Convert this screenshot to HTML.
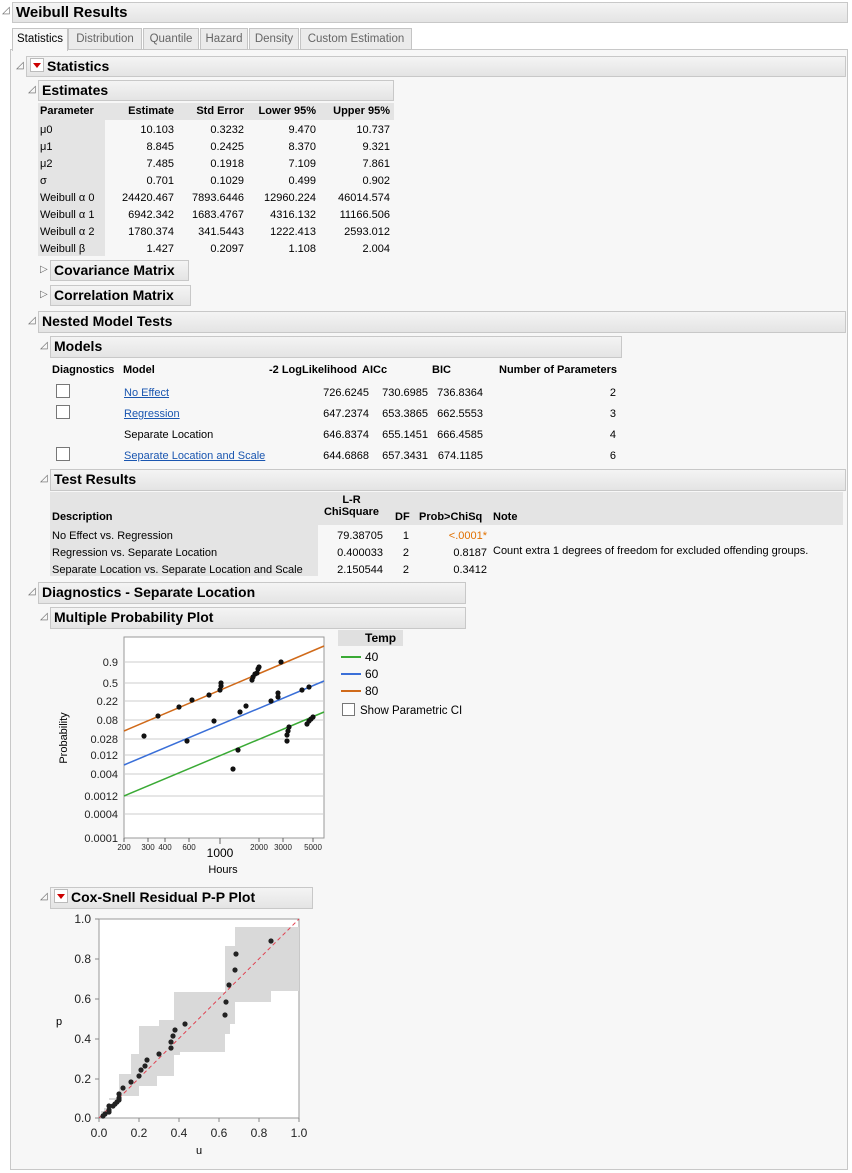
<!DOCTYPE html>
<html><head><meta charset="utf-8"><style>
body{margin:0;width:852px;height:1173px;background:#fff;font-family:"Liberation Sans",sans-serif;font-size:11px;color:#000;position:relative;overflow:hidden}
.a{position:absolute;white-space:nowrap}
.hb{position:absolute;background:linear-gradient(#f4f4f4,#e4e4e4);border:1px solid #c8c8c8;font-weight:bold;font-size:14px;line-height:19px;padding-left:3px;box-sizing:border-box}
.tri{position:absolute;font-size:10px;color:#666}
.r{text-align:right}
.tab{position:absolute;top:28px;height:22px;border:1px solid #c4c4c4;background:#ebebeb;color:#666;line-height:21px;text-align:center;box-sizing:border-box;font-size:11.5px}
.gr{background:#e4e4e4}
.cb{position:absolute;width:12px;height:12px;border:1px solid #777;background:#fff}
.lk{color:#1a56b0;text-decoration:underline}
.menu{display:inline-block;width:12px;height:12px;border:1px solid #bbb;background:#fff;vertical-align:-1px;margin-right:3px;position:relative}
.menu:after{content:"";position:absolute;left:2px;top:4px;border-left:4px solid transparent;border-right:4px solid transparent;border-top:5px solid #c00}
</style></head><body>
<div class="tri" style="left:2px;top:5px">◿</div>
<div class="hb" style="left:12px;top:2px;width:836px;height:21px;font-size:15px">Weibull Results</div>
<div style="position:absolute;left:10px;top:49px;width:838px;height:1121px;border:1px solid #c8c8c8;background:#f7f7f7;box-sizing:border-box"></div>
<div class="tab" style="left:12px;width:56px;background:#f7f7f7;color:#000;border-bottom:none;height:23px">Statistics</div>
<div class="tab" style="left:68px;width:74px">Distribution</div>
<div class="tab" style="left:143px;width:56px">Quantile</div>
<div class="tab" style="left:200px;width:48px">Hazard</div>
<div class="tab" style="left:249px;width:50px">Density</div>
<div class="tab" style="left:300px;width:112px">Custom Estimation</div>

<div class="tri" style="left:16px;top:60px">◿</div>
<div class="hb" style="left:26px;top:56px;width:820px;height:21px"><span class="menu"></span>Statistics</div>
<div class="tri" style="left:28px;top:84px">◿</div>
<div class="hb" style="left:38px;top:80px;width:356px;height:21px">Estimates</div>

<div class="a gr" style="left:38px;top:103px;width:356px;height:17px"></div>
<div class="a gr" style="left:38px;top:120px;width:67px;height:136px"></div>
<div class="a" style="left:40px;top:105px;font-weight:bold">Parameter</div>
<div class="a r" style="left:100px;width:74px;top:105px;font-weight:bold">Estimate</div>
<div class="a r" style="left:170px;width:74px;top:105px;font-weight:bold">Std Error</div>
<div class="a r" style="left:240px;width:76px;top:105px;font-weight:bold">Lower 95%</div>
<div class="a r" style="left:310px;width:80px;top:105px;font-weight:bold">Upper 95%</div>
<div class="a" style="left:40px;top:122px;line-height:17px">μ0<br>μ1<br>μ2<br>σ<br>Weibull α 0<br>Weibull α 1<br>Weibull α 2<br>Weibull β</div>
<div class="a r" style="left:100px;width:74px;top:122px;line-height:17px">10.103<br>8.845<br>7.485<br>0.701<br>24420.467<br>6942.342<br>1780.374<br>1.427</div>
<div class="a r" style="left:170px;width:74px;top:122px;line-height:17px">0.3232<br>0.2425<br>0.1918<br>0.1029<br>7893.6446<br>1683.4767<br>341.5443<br>0.2097</div>
<div class="a r" style="left:240px;width:76px;top:122px;line-height:17px">9.470<br>8.370<br>7.109<br>0.499<br>12960.224<br>4316.132<br>1222.413<br>1.108</div>
<div class="a r" style="left:310px;width:80px;top:122px;line-height:17px">10.737<br>9.321<br>7.861<br>0.902<br>46014.574<br>11166.506<br>2593.012<br>2.004</div>

<div class="tri" style="left:40px;top:264px">▷</div>
<div class="hb" style="left:50px;top:260px;width:139px;height:21px">Covariance Matrix</div>
<div class="tri" style="left:40px;top:289px">▷</div>
<div class="hb" style="left:50px;top:285px;width:141px;height:21px">Correlation Matrix</div>

<div class="tri" style="left:28px;top:315px">◿</div>
<div class="hb" style="left:38px;top:311px;width:808px;height:22px">Nested Model Tests</div>
<div class="tri" style="left:40px;top:340px">◿</div>
<div class="hb" style="left:50px;top:336px;width:572px;height:22px">Models</div>
<div class="a" style="left:52px;top:364px;font-weight:bold">Diagnostics</div>
<div class="a" style="left:123px;top:364px;font-weight:bold">Model</div>
<div class="a r" style="left:246px;width:111px;top:364px;font-weight:bold">-2 LogLikelihood</div>
<div class="a" style="left:362px;top:364px;font-weight:bold">AICc</div>
<div class="a" style="left:432px;top:364px;font-weight:bold">BIC</div>
<div class="a r" style="left:480px;width:137px;top:364px;font-weight:bold">Number of Parameters</div>
<div class="cb" style="left:56px;top:384px"></div>
<div class="cb" style="left:56px;top:405px"></div>
<div class="cb" style="left:56px;top:447px"></div>
<div class="a" style="left:124px;top:383px;line-height:21px"><span class="lk">No Effect</span><br><span class="lk">Regression</span><br>Separate Location<br><span class="lk">Separate Location and Scale</span></div>
<div class="a r" style="left:300px;width:69px;top:383px;line-height:21px">726.6245<br>647.2374<br>646.8374<br>644.6868</div>
<div class="a r" style="left:370px;width:58px;top:383px;line-height:21px">730.6985<br>653.3865<br>655.1451<br>657.3431</div>
<div class="a r" style="left:430px;width:53px;top:383px;line-height:21px">736.8364<br>662.5553<br>666.4585<br>674.1185</div>
<div class="a r" style="left:580px;width:36px;top:383px;line-height:21px">2<br>3<br>4<br>6</div>

<div class="tri" style="left:40px;top:473px">◿</div>
<div class="hb" style="left:50px;top:469px;width:796px;height:22px">Test Results</div>
<div class="a gr" style="left:50px;top:492px;width:793px;height:33px"></div>
<div class="a gr" style="left:50px;top:525px;width:268px;height:51px"></div>
<div class="a" style="left:52px;top:511px;font-weight:bold">Description</div>
<div class="a r" style="left:320px;width:63px;top:494px;font-weight:bold;text-align:center">L-R<br>ChiSquare</div>
<div class="a" style="left:395px;top:511px;font-weight:bold">DF</div>
<div class="a" style="left:419px;top:511px;font-weight:bold">Prob&gt;ChiSq</div>
<div class="a" style="left:493px;top:511px;font-weight:bold">Note</div>
<div class="a" style="left:52px;top:528px;line-height:17px">No Effect vs. Regression<br>Regression vs. Separate Location<br>Separate Location vs. Separate Location and Scale</div>
<div class="a r" style="left:320px;width:63px;top:528px;line-height:17px">79.38705<br>0.400033<br>2.150544</div>
<div class="a r" style="left:390px;width:19px;top:528px;line-height:17px">1<br>2<br>2</div>
<div class="a r" style="left:420px;width:67px;top:528px;line-height:17px"><span style="color:#e07000">&lt;.0001*</span><br>0.8187<br>0.3412</div>
<div class="a" style="left:493px;top:545px">Count extra 1 degrees of freedom for excluded offending groups.</div>

<div class="tri" style="left:28px;top:586px">◿</div>
<div class="hb" style="left:38px;top:582px;width:428px;height:22px">Diagnostics - Separate Location</div>
<div class="tri" style="left:40px;top:611px">◿</div>
<div class="hb" style="left:50px;top:607px;width:416px;height:22px">Multiple Probability Plot</div>

<svg class="a" style="left:0;top:0" width="852" height="1173" font-family="Liberation Sans, sans-serif">
<rect x="124" y="637" width="200" height="201" fill="#fff" stroke="#999"/>
<g stroke="#ccc">
<line x1="124" x2="324" y1="662" y2="662"/><line x1="124" x2="324" y1="683" y2="683"/><line x1="124" x2="324" y1="701" y2="701"/><line x1="124" x2="324" y1="720" y2="720"/><line x1="124" x2="324" y1="739" y2="739"/><line x1="124" x2="324" y1="755" y2="755"/><line x1="124" x2="324" y1="774" y2="774"/><line x1="124" x2="324" y1="796" y2="796"/><line x1="124" x2="324" y1="814" y2="814"/>
</g>
<g font-size="11" text-anchor="end" fill="#222">
<text x="118" y="666">0.9</text><text x="118" y="687">0.5</text><text x="118" y="705">0.22</text><text x="118" y="724">0.08</text><text x="118" y="743">0.028</text><text x="118" y="759">0.012</text><text x="118" y="778">0.004</text><text x="118" y="800">0.0012</text><text x="118" y="818">0.0004</text><text x="118" y="842">0.0001</text>
</g>
<g stroke="#666"><line x1="124" x2="124" y1="838" y2="842"/><line x1="148" x2="148" y1="838" y2="842"/><line x1="165" x2="165" y1="838" y2="842"/><line x1="189" x2="189" y1="838" y2="842"/><line x1="220" x2="220" y1="838" y2="844"/><line x1="259" x2="259" y1="838" y2="842"/><line x1="283" x2="283" y1="838" y2="842"/><line x1="313" x2="313" y1="838" y2="842"/></g>
<g font-size="8" text-anchor="middle" fill="#222"><text x="124" y="850">200</text><text x="148" y="850">300</text><text x="165" y="850">400</text><text x="189" y="850">600</text><text x="259" y="850">2000</text><text x="283" y="850">3000</text><text x="313" y="850">5000</text></g>
<text x="220" y="857" font-size="12" text-anchor="middle">1000</text>
<text x="223" y="873" font-size="11" text-anchor="middle">Hours</text>
<text x="0" y="0" font-size="11" text-anchor="middle" transform="translate(67,738) rotate(-90)">Probability</text>
<line x1="124" y1="731" x2="324" y2="646" stroke="#d06a1a" stroke-width="1.5"/>
<line x1="124" y1="765" x2="324" y2="681" stroke="#3a6fd8" stroke-width="1.5"/>
<line x1="124" y1="796" x2="324" y2="712" stroke="#3aaa35" stroke-width="1.5"/>
<g fill="#111">
<circle cx="144" cy="736" r="2.6"/><circle cx="158" cy="716" r="2.6"/><circle cx="179" cy="707" r="2.6"/><circle cx="192" cy="700" r="2.6"/><circle cx="209" cy="695" r="2.6"/><circle cx="220" cy="690" r="2.6"/><circle cx="221" cy="686" r="2.6"/><circle cx="221" cy="683" r="2.6"/><circle cx="252" cy="680" r="2.6"/><circle cx="253" cy="677" r="2.6"/><circle cx="255" cy="674" r="2.6"/><circle cx="257" cy="673" r="2.6"/><circle cx="258" cy="669" r="2.6"/><circle cx="259" cy="667" r="2.6"/><circle cx="281" cy="662" r="2.6"/>
<circle cx="187" cy="741" r="2.6"/><circle cx="214" cy="721" r="2.6"/><circle cx="233" cy="769" r="2.6"/><circle cx="238" cy="750" r="2.6"/><circle cx="240" cy="712" r="2.6"/><circle cx="246" cy="706" r="2.6"/><circle cx="271" cy="701" r="2.6"/><circle cx="278" cy="697" r="2.6"/><circle cx="278" cy="693" r="2.6"/><circle cx="302" cy="690" r="2.6"/><circle cx="309" cy="687" r="2.6"/>
<circle cx="287" cy="741" r="2.6"/><circle cx="287" cy="735" r="2.6"/><circle cx="288" cy="731" r="2.6"/><circle cx="289" cy="727" r="2.6"/><circle cx="307" cy="724" r="2.6"/><circle cx="309" cy="721" r="2.6"/><circle cx="311" cy="719" r="2.6"/><circle cx="313" cy="717" r="2.6"/>
</g>
<rect x="338" y="630" width="65" height="16" fill="#e0e0e0"/>
<text x="365" y="642" font-size="12" font-weight="bold">Temp</text>
<line x1="341" x2="361" y1="657" y2="657" stroke="#3aaa35" stroke-width="2"/><text x="365" y="661" font-size="12">40</text>
<line x1="341" x2="361" y1="674" y2="674" stroke="#3a6fd8" stroke-width="2"/><text x="365" y="678" font-size="12">60</text>
<line x1="341" x2="361" y1="691" y2="691" stroke="#d06a1a" stroke-width="2"/><text x="365" y="695" font-size="12">80</text>
<rect x="342.5" y="703.5" width="12" height="12" fill="#fff" stroke="#777"/>
<text x="360" y="714" font-size="11.5">Show Parametric CI</text>

<rect x="99" y="919" width="200" height="199" fill="#fff" stroke="#999"/>
<polygon fill="#d9d9d9" points="101,1118 101,1111 104,1111 104,1108 109,1108 109,1098 119,1098 119,1074 131,1074 131,1054 139,1054 139,1026 159,1026 159,1020 174,1020 174,992 225,992 225,946 235,946 235,927 299,927 299,991 271,991 271,1002 235,1002 235,1024 230,1024 230,1034 225,1034 225,1052 180,1052 180,1055 174,1055 174,1076 157,1076 157,1086 139,1086 139,1096 120,1096 120,1100 109,1100 109,1112 103,1112 103,1118"/>
<line x1="99" y1="1118" x2="299" y2="919" stroke="#e04050" stroke-dasharray="4,3"/>
<g fill="#222">
<circle cx="103" cy="1116" r="2.6"/><circle cx="105" cy="1114" r="2.6"/><circle cx="109" cy="1112" r="2.6"/><circle cx="109" cy="1110" r="2.6"/><circle cx="109" cy="1106" r="2.6"/><circle cx="113" cy="1106" r="2.6"/><circle cx="115" cy="1104" r="2.6"/><circle cx="117" cy="1102" r="2.6"/><circle cx="119" cy="1100" r="2.6"/><circle cx="119" cy="1098" r="2.6"/><circle cx="119" cy="1094" r="2.6"/><circle cx="123" cy="1088" r="2.6"/><circle cx="131" cy="1082" r="2.6"/><circle cx="139" cy="1076" r="2.6"/><circle cx="141" cy="1070" r="2.6"/><circle cx="145" cy="1066" r="2.6"/><circle cx="147" cy="1060" r="2.6"/><circle cx="159" cy="1054" r="2.6"/><circle cx="171" cy="1048" r="2.6"/><circle cx="171" cy="1042" r="2.6"/><circle cx="173" cy="1036" r="2.6"/><circle cx="175" cy="1030" r="2.6"/><circle cx="185" cy="1024" r="2.6"/><circle cx="225" cy="1015" r="2.6"/><circle cx="226" cy="1002" r="2.6"/><circle cx="229" cy="985" r="2.6"/><circle cx="235" cy="970" r="2.6"/><circle cx="236" cy="954" r="2.6"/><circle cx="271" cy="941" r="2.6"/>
</g>
<g font-size="12" fill="#222" text-anchor="end"><text x="91" y="923">1.0</text><text x="91" y="963">0.8</text><text x="91" y="1003">0.6</text><text x="91" y="1043">0.4</text><text x="91" y="1083">0.2</text><text x="91" y="1122">0.0</text></g>
<g font-size="12" fill="#222" text-anchor="middle"><text x="99" y="1137">0.0</text><text x="139" y="1137">0.2</text><text x="179" y="1137">0.4</text><text x="219" y="1137">0.6</text><text x="259" y="1137">0.8</text><text x="299" y="1137">1.0</text></g>
<text x="199" y="1154" font-size="11" text-anchor="middle">u</text>
<text x="56" y="1025" font-size="11">p</text>
<g stroke="#888"><line x1="95" x2="99" y1="919" y2="919"/><line x1="95" x2="99" y1="959" y2="959"/><line x1="95" x2="99" y1="999" y2="999"/><line x1="95" x2="99" y1="1039" y2="1039"/><line x1="95" x2="99" y1="1079" y2="1079"/><line x1="95" x2="99" y1="1118" y2="1118"/>
<line x1="99" x2="99" y1="1118" y2="1122"/><line x1="139" x2="139" y1="1118" y2="1122"/><line x1="179" x2="179" y1="1118" y2="1122"/><line x1="219" x2="219" y1="1118" y2="1122"/><line x1="259" x2="259" y1="1118" y2="1122"/><line x1="299" x2="299" y1="1118" y2="1122"/></g>
</svg>
<div class="tri" style="left:40px;top:891px">◿</div>
<div class="hb" style="left:50px;top:887px;width:263px;height:22px"><span class="menu"></span>Cox-Snell Residual P-P Plot</div>
</body></html>
